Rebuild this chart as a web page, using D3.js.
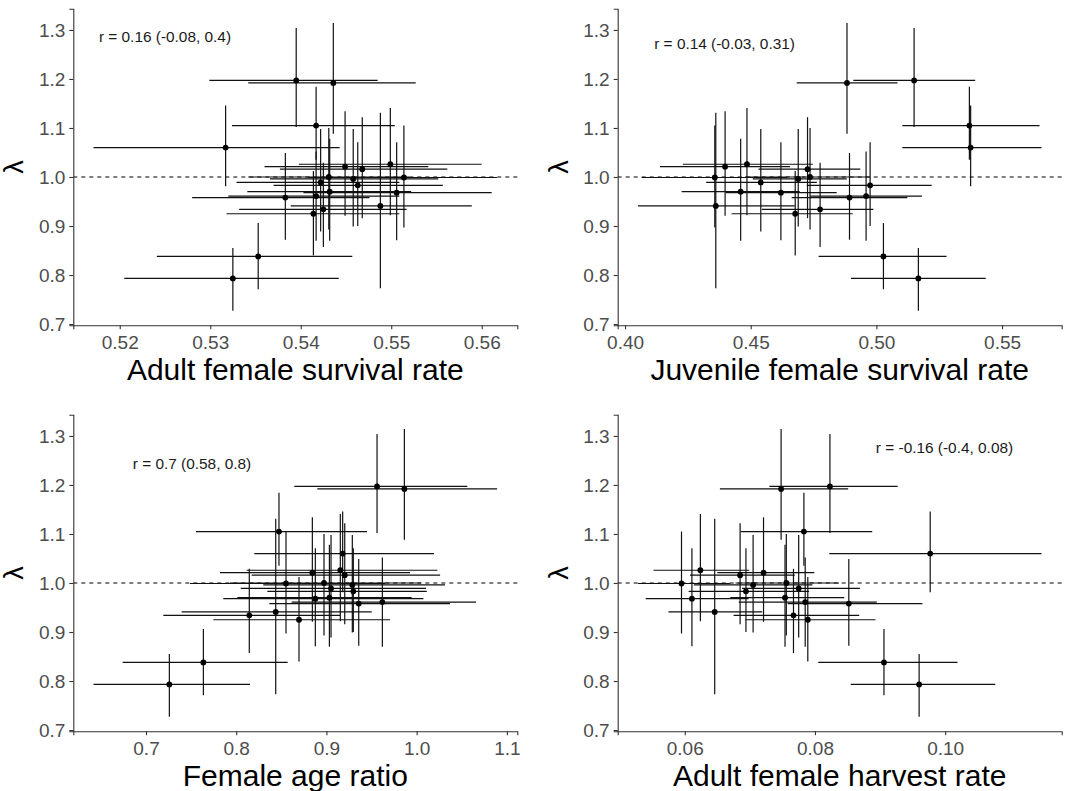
<!DOCTYPE html>
<html>
<head>
<meta charset="utf-8">
<script src="https://cdn.jsdelivr.net/npm/d3@7"></script>
<style>
  body { margin: 0; background: #fff; }
  svg text { font-family: "Liberation Sans", Arial, sans-serif; }
  .axis path, .axis line { stroke: #333; stroke-width: 1.1; }
</style>
</head>
<body>
<svg class="chart" width="1065" height="791"></svg>
<script>
// population growth rate (lambda) with 95% CI, same order in every panel
const lam   = [1.192,1.197,1.105,1.060,1.026,1.021,1.016,1.000,0.999,0.996,0.989,0.983,0.970,0.968,0.961,0.958,0.941,0.934,0.925,0.838,0.793];
const lamLo = [1.088,1.102,1.035,0.981,0.922,0.921,0.916,0.893,0.897,0.899,0.889,0.900,0.870,0.871,0.870,0.872,0.773,0.857,0.840,0.771,0.727];
const lamHi = [1.314,1.304,1.184,1.146,1.141,1.134,1.122,1.100,1.105,1.098,1.098,1.071,1.078,1.071,1.052,1.049,1.131,1.029,1.012,0.906,0.855];

// adult female survival rate
const afsX  = [0.5436,0.5395,0.5417,0.5317,0.5499,0.5449,0.5468,0.5431,0.5514,0.5458,0.5422,0.5463,0.5432,0.5506,0.5417,0.5383,0.5488,0.5425,0.5414,0.5353,0.5325];
const afsLo = [0.5342,0.5299,0.5324,0.5171,0.5398,0.5360,0.5377,0.5342,0.5408,0.5366,0.5329,0.5370,0.5341,0.5403,0.5320,0.5280,0.5389,0.5332,0.5318,0.5241,0.5205];
const afsHi = [0.5527,0.5485,0.5504,0.5443,0.5600,0.5541,0.5562,0.5520,0.5617,0.5552,0.5509,0.5557,0.5522,0.5611,0.5509,0.5476,0.5589,0.5517,0.5509,0.5457,0.5442];

// juvenile female survival rate
const jfsX  = [0.4883,0.5150,0.5370,0.5375,0.4485,0.4398,0.4726,0.4736,0.4357,0.4689,0.4540,0.4975,0.4460,0.4620,0.4959,0.4893,0.4361,0.4776,0.4677,0.5028,0.5167];
const jfsLo = [0.4683,0.4908,0.5103,0.5103,0.4230,0.4139,0.4531,0.4478,0.4066,0.4508,0.4323,0.4723,0.4225,0.4400,0.4737,0.4663,0.4051,0.4544,0.4424,0.4770,0.4899];
const jfsHi = [0.5084,0.5393,0.5649,0.5657,0.4747,0.4656,0.4936,0.4975,0.4644,0.4882,0.4763,0.5220,0.4695,0.4842,0.5181,0.5123,0.4675,0.4988,0.4906,0.5279,0.5435];

// female age ratio
const farX  = [0.9864,0.9561,0.8474,0.9180,0.9154,0.8844,0.9203,0.8973,0.8552,0.9287,0.9051,0.9298,0.9033,0.8877,0.9620,0.9358,0.8438,0.8145,0.8696,0.7636,0.7259];
const farLo = [0.8899,0.8644,0.7554,0.8201,0.8116,0.7820,0.8171,0.7931,0.7488,0.8300,0.8050,0.8345,0.8012,0.7857,0.8615,0.8367,0.7395,0.7192,0.7747,0.6741,0.6418];
const farHi = [1.0892,1.0562,0.9450,1.0193,1.0230,0.9927,1.0260,1.0050,0.9650,1.0314,1.0104,1.0112,0.9945,1.0075,1.0658,1.0370,0.9502,0.9151,0.9705,0.8571,0.8153];

// adult female harvest rate
const afhX  = [0.0748,0.0823,0.0783,0.0977,0.0624,0.0721,0.0685,0.0756,0.0595,0.0705,0.0775,0.0694,0.0754,0.0611,0.0785,0.0852,0.0646,0.0767,0.0789,0.0906,0.0960];
const afhLo = [0.0654,0.0730,0.0686,0.0822,0.0552,0.0650,0.0608,0.0678,0.0528,0.0614,0.0688,0.0606,0.0670,0.0540,0.0683,0.0758,0.0575,0.0675,0.0693,0.0805,0.0855];
const afhHi = [0.0851,0.0927,0.0888,0.1148,0.0699,0.0799,0.0769,0.0837,0.0670,0.0796,0.0869,0.0791,0.0845,0.0698,0.0895,0.0965,0.0719,0.0868,0.0893,0.1019,0.1077];

const xTitles = ["Adult female survival rate", "Juvenile female survival rate", "Female age ratio", "Adult female harvest rate"];
const xTicks = [[0.52,0.53,0.54,0.55,0.56], [0.40,0.45,0.50,0.55], [0.7,0.8,0.9,1.0,1.1], [0.06,0.08,0.10]];
const xFormats = [".2f", ".2f", ".1f", ".2f"];
const yTicks = [0.7,0.8,0.9,1.0,1.1,1.2,1.3];
const annoText = ["r = 0.16 (-0.08, 0.4)", "r = 0.14 (-0.03, 0.31)", "r = 0.7 (0.58, 0.8)", "r = -0.16 (-0.4, 0.08)"];
const annoX = [0.5250, 0.4396, 0.7510, 0.0999];
const annoY = [1.287, 1.273, 1.244, 1.2755];

// ggplot style 5% padding
function expand(lo, hi) {
    let pad = (hi - lo) * 0.05;
    return [lo - pad, hi + pad];
}

function drawPanel(svg, box, xs, xlo, xhi, k) {
    let data = lam.map((l, i) => ({x: xs[i], xlo: xlo[i], xhi: xhi[i], y: l, ylo: lamLo[i], yhi: lamHi[i]}));

    let x = d3.scaleLinear()
        .domain(expand(d3.min(xlo), d3.max(xhi)))
        .range([box.left, box.left + box.w]);
    let y = d3.scaleLinear()
        .domain(expand(d3.min(lamLo), d3.max(lamHi)))
        .range([box.top + box.h, box.top]);

    let g = svg.append("g");

    // reference line at lambda = 1
    g.append("line")
        .attr("x1", x.range()[0])
        .attr("x2", x.range()[1])
        .attr("y1", y(1))
        .attr("y2", y(1))
        .style("stroke", "#000")
        .style("stroke-width", 1.1)
        .style("stroke-dasharray", "4,4");

    g.selectAll("line.hbar")
        .data(data)
        .enter().append("line")
        .attr("class", "hbar")
        .attr("x1", d => x(d.xlo))
        .attr("x2", d => x(d.xhi))
        .attr("y1", d => y(d.y))
        .attr("y2", d => y(d.y))
        .style("stroke", "#111")
        .style("stroke-width", 1.2);

    g.selectAll("line.vbar")
        .data(data)
        .enter().append("line")
        .attr("class", "vbar")
        .attr("x1", d => x(d.x))
        .attr("x2", d => x(d.x))
        .attr("y1", d => y(d.ylo))
        .attr("y2", d => y(d.yhi))
        .style("stroke", "#111")
        .style("stroke-width", 1.2);

    g.selectAll("circle")
        .data(data)
        .enter().append("circle")
        .attr("cx", d => x(d.x))
        .attr("cy", d => y(d.y))
        .attr("r", 2.9)
        .style("fill", "#000");

    g.append("g")
        .attr("class", "axis")
        .attr("transform", "translate(0," + (box.top + box.h) + ")")
        .call(d3.axisBottom(x).tickValues(xTicks[k]).tickFormat(d3.format(xFormats[k]))
            .tickSizeOuter(0).tickSize(4).tickPadding(6));

    g.append("g")
        .attr("class", "axis")
        .attr("transform", "translate(" + box.left + ",0)")
        .call(d3.axisLeft(y).tickValues(yTicks).tickFormat(d3.format(".1f"))
            .tickSizeOuter(0).tickSize(4).tickPadding(4));

    g.selectAll(".axis text")
        .style("font-size", "19px")
        .style("fill", "#4d4d4d");

    g.append("text")
        .attr("x", box.left + box.w / 2)
        .attr("y", box.top + box.h + 55)
        .style("text-anchor", "middle")
        .style("font-size", "30px")
        .style("fill", "#000")
        .text(xTitles[k]);

    g.append("text")     // lambda label on the y axis
        .attr("transform", "translate(" + (box.left - 58) + "," + (box.top + box.h / 2) + ") rotate(-90)")
        .attr("dy", "0.3em")
        .style("text-anchor", "middle")
        .style("font-size", "27px")
        .style("fill", "#000")
        .text("λ");

    g.append("text")
        .attr("x", x(annoX[k]))
        .attr("y", y(annoY[k]))
        .attr("dy", "0.35em")
        .style("text-anchor", "middle")
        .style("font-size", "15.4px")
        .style("fill", "#1a1a1a")
        .text(annoText[k]);
}

let svg = d3.select("svg.chart");
let boxes = [
    {left: 73.3, top: 8.7, w: 444, h: 316.5},
    {left: 617.7, top: 8.7, w: 444, h: 316.5},
    {left: 73.3, top: 414.7, w: 444, h: 316.5},
    {left: 617.7, top: 414.7, w: 444, h: 316.5}
];
drawPanel(svg, boxes[0], afsX, afsLo, afsHi, 0);
drawPanel(svg, boxes[1], jfsX, jfsLo, jfsHi, 1);
drawPanel(svg, boxes[2], farX, farLo, farHi, 2);
drawPanel(svg, boxes[3], afhX, afhLo, afhHi, 3);
</script>
</body>
</html>
